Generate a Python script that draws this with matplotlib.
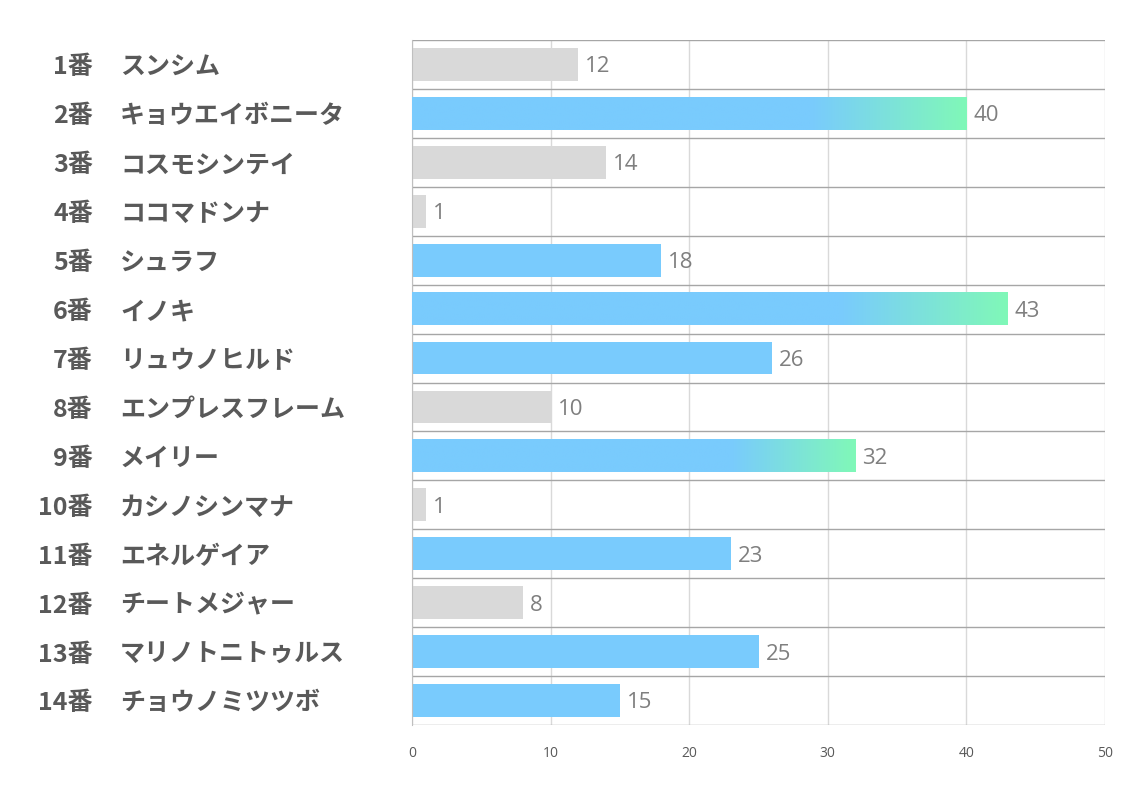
import numpy as np
import matplotlib
matplotlib.use("Agg")
import matplotlib.pyplot as plt
from matplotlib.transforms import blended_transform_factory
from matplotlib.colors import LinearSegmentedColormap

plt.rcParams['font.family'] = ['Noto Sans CJK JP', 'DejaVu Sans']

numbers = ["1番", "2番", "3番", "4番", "5番", "6番", "7番", "8番", "9番", "10番",
           "11番", "12番", "13番", "14番"]
names = ["スンシム", "キョウエイボニータ", "コスモシンテイ", "ココマドンナ", "シュラフ",
         "イノキ", "リュウノヒルド", "エンプレスフレーム", "メイリー", "カシノシンマナ",
         "エネルゲイア", "チートメジャー", "マリノトニトゥルス", "チョウノミツツボ"]
values = [12, 40, 14, 1, 18, 43, 26, 10, 32, 1, 23, 8, 25, 15]
groups = ["gray", "grad", "gray", "gray", "blue", "grad", "blue", "gray", "grad",
          "gray", "blue", "gray", "blue", "blue"]
x_ticks = [0, 10, 20, 30, 40, 50]

GRAY = "#d9d9d9"
BLUE = "#79cbfd"
GREEN = "#80f8b8"
cmap = LinearSegmentedColormap.from_list("bg", [(0, BLUE), (0.72, BLUE), (1.0, GREEN)])

fig = plt.figure(figsize=(11.34, 7.93), dpi=100)
ax = fig.add_axes([412/1134, 68/793, 693/1134, 685/793])

n = len(values)
y = np.arange(n)
h = 0.67
colors = [GRAY if g == "gray" else BLUE for g in groups]
ax.barh(y, values, height=h, color=colors, zorder=2)

grad = np.linspace(0, 1, 256).reshape(1, -1)
for yi, v, g in zip(y, values, groups):
    if g == "grad":
        ax.imshow(grad, cmap=cmap, extent=[0, v, yi + h/2, yi - h/2],
                  aspect='auto', zorder=3, interpolation='bilinear')
ax.set_xlim(0, 50)
ax.set_ylim(n - 0.5, -0.5)

for yi, v in zip(y, values):
    ax.text(v + 0.5, yi + 0.05, str(v), va='center', ha='left', fontsize=16,
            color='#7f7f7f', family=['Open Sans', 'DejaVu Sans'], zorder=4)

ax.set_xticks(x_ticks)
ax.set_xticklabels([str(t) for t in x_ticks], fontsize=10, color='#595959',
                   family=['Open Sans', 'DejaVu Sans'])
ax.tick_params(axis='x', length=0, pad=15)
ax.set_yticks([])
ax.set_yticks(np.arange(-0.5, n + 0.5, 1), minor=True)
ax.tick_params(axis='y', which='both', length=0, labelleft=False)
ax.grid(axis='x', which='major', color='#d9d9d9', linewidth=1, zorder=1)
ax.grid(axis='y', which='minor', color='#a6a6a6', linewidth=1, zorder=1)
ax.set_axisbelow(True)
for s in ['top', 'right', 'bottom']:
    ax.spines[s].set_visible(False)
ax.spines['left'].set_color('#bfbfbf')

tr = blended_transform_factory(fig.transFigure, ax.transData)
for yi, num, nm in zip(y, numbers, names):
    ax.text(93/1134, yi + 0.06, num, transform=tr, ha='right', va='center', fontsize=18,
            fontweight='bold', color='#595959')
    ax.text(120/1134, yi + 0.06, nm, transform=tr, ha='left', va='center', fontsize=18,
            fontweight='bold', color='#595959')

fig.savefig("out.png", dpi=100)
